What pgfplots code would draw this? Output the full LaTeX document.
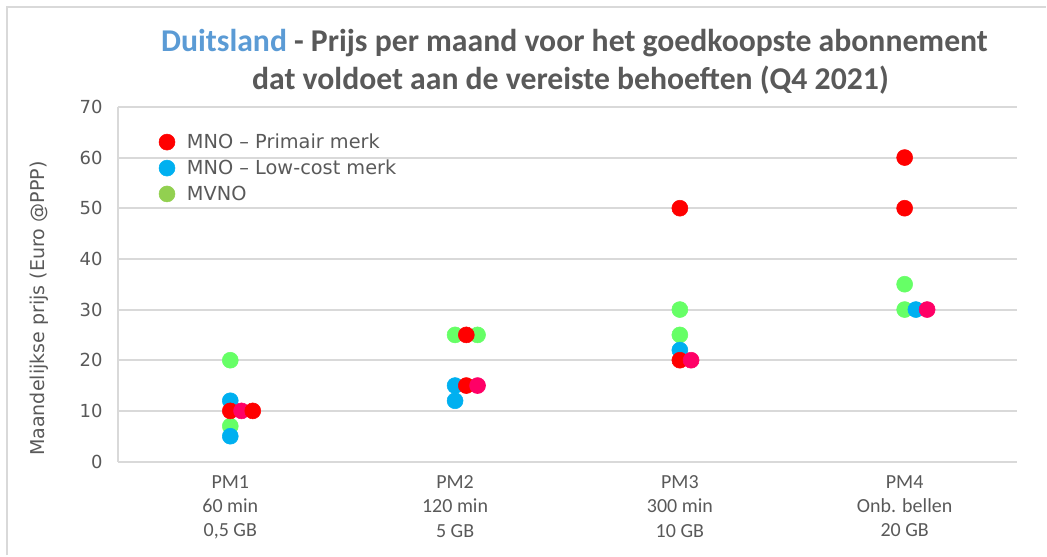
\documentclass[border=0pt]{standalone}
\usepackage{pgfplots}
\pgfplotsset{compat=1.18}
\usepackage{fontspec}
\setmainfont{DejaVu Sans}
\newfontfamily\calibri{Carlito}

\definecolor{txtgray}{HTML}{595959}
\definecolor{gridgray}{HTML}{D9D9D9}
\definecolor{titleblue}{HTML}{5B9BD5}
\definecolor{mnored}{HTML}{FF0000}
\definecolor{lowblue}{HTML}{00B0F0}
\definecolor{mvnogreen}{HTML}{66FF66}
\definecolor{leggreen}{HTML}{92D050}
\definecolor{otherpink}{HTML}{FF0066}

\pgfplotsset{
    dot/.style={only marks, mark=*, mark size=6pt, color=#1,
        mark options={fill=#1, draw=#1}},
}

\begin{document}
\begin{tikzpicture}
% canvas in pixels (1047 x 556, 1px = 0.75pt), y measured from the bottom
\begin{scope}[x=0.75pt,y=0.75pt]
\path (0,0) rectangle (1047,556);
\draw[gridgray, line width=1.5pt] (7,0) -- (7,549) -- (1047,549);
\node[font=\calibri\bfseries\fontsize{23.8}{28}\selectfont, text=txtgray] at (575,513)
    {\textcolor{titleblue}{Duitsland} - Prijs per maand voor het goedkoopste abonnement};
\node[font=\calibri\bfseries\fontsize{23.8}{28}\selectfont, text=txtgray] at (571,476)
    {dat voldoet aan de vereiste behoeften (Q4 2021)};
\end{scope}

\begin{axis}[
    at={(88.5pt,70.5pt)}, anchor=south west,
    scale only axis,
    width=675pt, height=266.25pt,
    xmin=0.5, xmax=4.5,
    ymin=0, ymax=70,
    ytick={0,10,...,70},
    xtick={1,2,3,4},
    xticklabels={{PM1\\60 min\\0,5 GB},{PM2\\120 min\\5 GB},{PM3\\300 min\\10 GB},{PM4\\Onb. bellen\\20 GB}},
    xticklabel style={align=center, font=\calibri\fontsize{15}{18.2}\selectfont, text=txtgray, yshift=-7pt},
    yticklabel style={font=\fontsize{13.5}{15}\selectfont, text=txtgray, xshift=-8pt},
    /pgf/number format/assume math mode=true,
    major tick length=0pt,
    axis x line*=bottom, axis y line*=left,
    axis line style={draw=gridgray, line width=1.5pt, -},
    ymajorgrids,
    grid style={gridgray, line width=1.5pt},
    ylabel={Maandelijkse prijs (Euro @PPP)},
    ylabel style={at={(axis description cs:-0.088,0.431)}, anchor=center,
        font=\fontsize{14.3}{16}\selectfont, text=txtgray},
    clip=false,
    legend style={at={(axis description cs:0.041,0.94)}, anchor=north west,
        draw=none, fill=none, font=\fontsize{14.5}{17}\selectfont, text=txtgray,
        row sep=3pt, /tikz/every odd column/.append style={column sep=7pt}},
    legend cell align=left,
]
% MVNO
\addplot[dot=mvnogreen, forget plot] coordinates {
    (1,20) (1,7) (2,25) (2.1,25) (3,30) (3,25) (4,35) (4,30)
};
% MNO - low-cost merk
\addplot[dot=lowblue, forget plot] coordinates {
    (1,12) (1,5) (2,15) (2,12) (3,22) (4.05,30)
};
% MNO - primair merk
\addplot[dot=mnored, forget plot] coordinates {
    (1,10) (2.05,25) (2.05,15) (3,50) (3,20) (4,60) (4,50)
};
% overige (roze)
\addplot[dot=otherpink, forget plot] coordinates {
    (1.05,10) (2.1,15) (3.05,20) (4.1,30)
};
\addplot[dot=mnored, forget plot] coordinates {
    (1.1,10)
};
\addlegendimage{dot=mnored}
\addlegendentry{MNO – Primair merk}
\addlegendimage{dot=lowblue}
\addlegendentry{MNO – Low-cost merk}
\addlegendimage{dot=leggreen}
\addlegendentry{MVNO}
\end{axis}
\end{tikzpicture}
\end{document}
